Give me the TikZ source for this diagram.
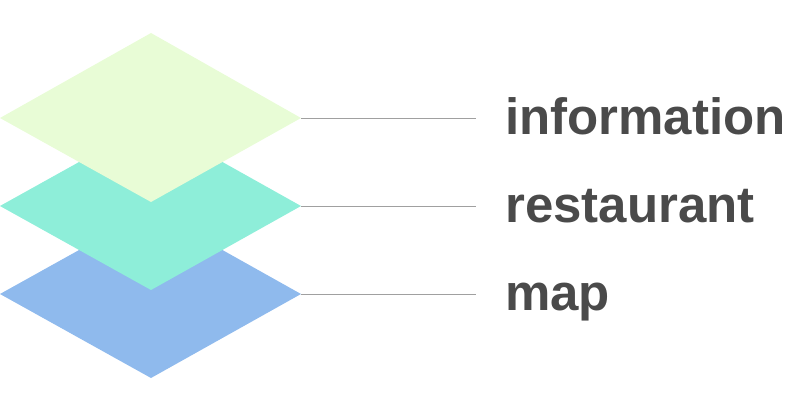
\documentclass[tikz,border=0pt]{standalone}
\usepackage{fontspec}
\setmainfont{Liberation Sans}
\usepackage{xcolor}
\usetikzlibrary{positioning}

\definecolor{infofill}{RGB}{232,252,214}
\definecolor{restfill}{RGB}{142,238,217}
\definecolor{mapfill}{RGB}{143,186,237}
\definecolor{leadgray}{RGB}{160,160,160}
\definecolor{textgray}{RGB}{74,74,74}

\tikzset{
	leader/.style={draw=leadgray, line width=0.9pt},
	lbl/.style={inner sep=0pt, anchor=base west, text=textgray, font=\bfseries\fontsize{51}{60}\selectfont}
}

\begin{document}
\begin{tikzpicture}[x=1pt,y=-1pt]
			\useasboundingbox (0,0) rectangle (801,420);

			%% layers
			\fill[mapfill] (0,294) -- (151,210) -- (301,294) -- (151,378) -- cycle;
			\fill[restfill] (0,206) -- (151,122) -- (301,206) -- (151,290) -- cycle;
			\fill[infofill] (0,118) -- (151,33) -- (301,118) -- (151,202) -- cycle;
			\coordinate (infoR) at (301,118);
			\coordinate (restR) at (301,206);
			\coordinate (mapR) at (301,294);

			%% labels
			\node[lbl] (info) at (505,135) {information};
			\node[lbl] (rest) at (505,222) {restaurant};
			\node[lbl] (map) at (505,310) {map};
			\coordinate (infoE) at (476,118);
			\coordinate (restE) at (476,206);
			\coordinate (mapE) at (476,294);

			%% lines
			\draw[leader] (infoR) -- (infoE);
			\draw[leader] (restR) -- (restE);
			\draw[leader] (mapR) -- (mapE);
		\end{tikzpicture}
\end{document}
